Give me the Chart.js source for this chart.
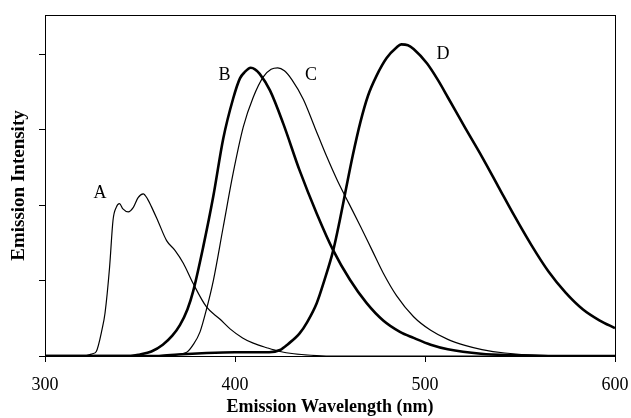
<!DOCTYPE html>
<html>
<head>
<meta charset="utf-8">
<script src="https://cdn.jsdelivr.net/npm/chart.js@4/dist/chart.umd.min.js"></script>
<style>
  body { margin: 0; background: #fff; }
  #wrap { width: 631px; height: 418px; }
</style>
</head>
<body>
<div id="wrap"><canvas id="chart" width="631" height="418"></canvas></div>
<script>
// x ticks and axis range
const xTicks = [300, 400, 500, 600];
const yTicks = [0, 1, 2, 3, 4];

// curve A (thin)
const aWave = [300, 320, 325, 327, 330, 331.6, 334, 335.8, 337.5, 339.2, 341, 343.8, 346.5, 349, 351.7, 354, 356, 359.6, 364, 368.4, 372.8, 378, 385, 392, 397.4, 404, 409.6, 416.7, 423.7, 431, 440, 450, 600];
const aInt  = [0, 0, 0.03, 0.06, 0.35, 0.57, 1.18, 1.80, 1.97, 2.02, 1.95, 1.91, 1.97, 2.10, 2.15, 2.08, 1.98, 1.78, 1.53, 1.40, 1.23, 0.96, 0.65, 0.49, 0.36, 0.24, 0.17, 0.11, 0.06, 0.03, 0.01, 0, 0];

// curve B (thick)
const bWave = [300, 345, 350, 356, 362, 367, 371, 375, 378, 383.3, 388.6, 393.8, 399, 402.6, 405, 408.3, 410.5, 413, 418.4, 425.4, 434, 443, 451.7, 460.5, 469.3, 478, 486.8, 494, 503, 512, 529.5, 547, 570, 600];
const bInt  = [0, 0, 0.02, 0.06, 0.15, 0.27, 0.41, 0.62, 0.86, 1.45, 2.12, 2.88, 3.41, 3.68, 3.76, 3.82, 3.80, 3.74, 3.52, 3.08, 2.46, 1.89, 1.40, 1.01, 0.70, 0.47, 0.32, 0.24, 0.15, 0.09, 0.03, 0.01, 0, 0];

// curve C (thin)
const cWave = [300, 355, 365, 374.6, 378, 381.6, 385, 388.6, 393.8, 399, 404.4, 409.6, 414.9, 419, 422.5, 426, 430, 436, 442, 448, 454, 460, 466, 472, 478, 485, 494, 503, 512, 521, 530, 542, 560, 600];
const cInt  = [0, 0, 0.01, 0.05, 0.15, 0.32, 0.62, 1.00, 1.71, 2.42, 3.04, 3.43, 3.70, 3.80, 3.82, 3.78, 3.66, 3.40, 3.03, 2.66, 2.32, 2.02, 1.72, 1.41, 1.10, 0.80, 0.52, 0.34, 0.22, 0.14, 0.085, 0.04, 0.01, 0];

// curve D (thick)
const dWave = [300, 360, 370, 385, 400, 410, 418, 423.7, 428, 434, 438, 443, 447, 451.7, 455, 458, 462, 466, 470, 474.6, 479.8, 485, 487.5, 491, 494, 501, 507, 512, 521, 530, 538.5, 547, 556, 565, 574, 583, 592, 600];
const dInt  = [0, 0, 0.02, 0.04, 0.05, 0.05, 0.05, 0.08, 0.16, 0.30, 0.45, 0.70, 1.00, 1.40, 1.78, 2.16, 2.66, 3.10, 3.45, 3.72, 3.95, 4.09, 4.13, 4.12, 4.07, 3.88, 3.65, 3.43, 3.03, 2.64, 2.25, 1.86, 1.47, 1.12, 0.84, 0.62, 0.47, 0.37];

// curve labels (position in data units)
const curveLabels = [
  { text: 'A', x: 329, y: 2.16 },
  { text: 'B', x: 394.5, y: 3.72 },
  { text: 'C', x: 440, y: 3.72 },
  { text: 'D', x: 509.5, y: 4.0 }
];

const serif = '"Liberation Serif", "DejaVu Serif", serif';

function pts(xs, ys) {
  return xs.map((x, i) => ({ x: x, y: ys[i] }));
}

function series(label, xs, ys, w) {
  return {
    label: label,
    data: pts(xs, ys),
    borderColor: '#000',
    borderWidth: w,
    pointRadius: 0,
    fill: false,
    cubicInterpolationMode: 'monotone'
  };
}

const frameAndLabels = {
  id: 'frameAndLabels',
  afterDatasetsDraw(chart) {
    const { ctx, chartArea: a, scales } = chart;
    ctx.save();
    ctx.strokeStyle = '#000';
    ctx.lineWidth = 1;
    ctx.strokeRect(a.left + 0.5, a.top + 0.5, a.right - a.left, a.bottom - a.top);
    ctx.fillStyle = '#000';
    ctx.font = '18px ' + serif;
    ctx.textAlign = 'center';
    ctx.textBaseline = 'middle';
    curveLabels.forEach(l => {
      ctx.fillText(l.text, scales.x.getPixelForValue(l.x), scales.y.getPixelForValue(l.y));
    });
    ctx.restore();
  }
};

new Chart(document.getElementById('chart'), {
  type: 'line',
  data: {
    datasets: [
      series('A', aWave, aInt, 1.2),
      series('B', bWave, bInt, 2.6),
      series('C', cWave, cInt, 1.2),
      series('D', dWave, dInt, 2.6)
    ]
  },
  options: {
    responsive: false,
    animation: false,
    layout: { padding: { top: 15, right: 16, left: 0, bottom: 0 } },
    plugins: { legend: { display: false }, tooltip: { enabled: false } },
    scales: {
      x: {
        type: 'linear',
        min: xTicks[0],
        max: xTicks[xTicks.length - 1],
        afterBuildTicks: s => { s.ticks = xTicks.map(v => ({ value: v })); },
        afterFit: s => { s.height = 62; s.paddingLeft = 0; s.paddingRight = 0; },
        grid: { drawOnChartArea: false, drawTicks: true, tickLength: 6, color: '#000' },
        border: { color: '#000', width: 1 },
        ticks: { color: '#000', font: { family: serif, size: 18 }, padding: 12, maxRotation: 0 },
        title: {
          display: true,
          text: 'Emission Wavelength (nm)',
          color: '#000',
          font: { family: serif, size: 18, weight: 'bold' },
          padding: { top: 0, bottom: 0 }
        }
      },
      y: {
        min: 0,
        max: 4.52,
        afterBuildTicks: s => { s.ticks = yTicks.map(v => ({ value: v })); },
        afterFit: s => { s.width = 45; s.paddingTop = 0; s.paddingBottom = 0; },
        grid: { drawOnChartArea: false, drawTicks: true, tickLength: 6, color: '#000' },
        border: { color: '#000', width: 1 },
        ticks: { callback: () => '', padding: 0 },
        title: {
          display: true,
          text: 'Emission Intensity',
          color: '#000',
          font: { family: serif, size: 19, weight: 'bold' },
          padding: { top: 8, bottom: 0 }
        }
      }
    }
  },
  plugins: [frameAndLabels]
});
</script>
</body>
</html>
